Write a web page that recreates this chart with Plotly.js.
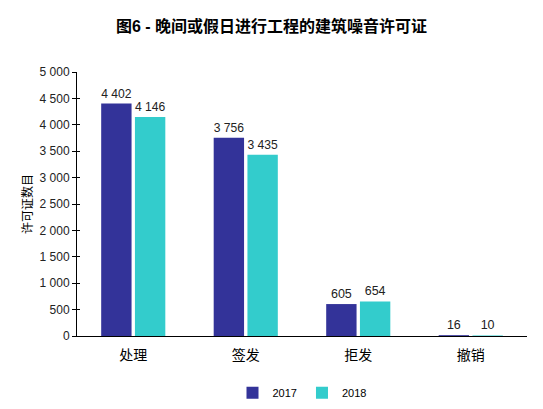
<!DOCTYPE html>
<html>
<head>
<meta charset="utf-8">
<script src="https://cdn.plot.ly/plotly-3.0.1.min.js"></script>
<style>
  html, body { margin: 0; padding: 0; background: #fff; }
  #chart { width: 543px; height: 409px; }
</style>
</head>
<body>
<div id="chart"></div>
<script>
const categories = ["处理", "签发", "拒发", "撤销"];
const values2017 = [4402, 3756, 605, 16];
const values2018 = [4146, 3435, 654, 10];
const yTicks = [0, 500, 1000, 1500, 2000, 2500, 3000, 3500, 4000, 4500, 5000];

const baseFont = "Liberation Sans, Arial, Noto Sans CJK SC, sans-serif";

function barTrace(name, values, color) {
    return {
        type: "bar",
        name: name,
        x: categories,
        y: values,
        marker: {color: color},
        text: values,
        texttemplate: "%{y:,}",
        textposition: "outside",
        cliponaxis: false,
        textfont: {family: baseFont, size: 12.5, color: "#222"}
    };
}

const data = [
    barTrace("2017", values2017, "#333399"),
    barTrace("2018", values2018, "#33cccc")
];

// dummy trace so the second axis (inner tick half) is drawn
data.push({x: [categories[0]], y: [0], yaxis: "y2", type: "scatter", mode: "none", showlegend: false, hoverinfo: "skip"});

const layout = {
    width: 543,
    height: 409,
    margin: {l: 77, r: 16, t: 72, b: 73, autoexpand: false},
    paper_bgcolor: "#fff",
    plot_bgcolor: "#fff",
    separators: ", ",
    font: {family: baseFont, size: 12, color: "#222"},
    title: {
        text: "<b>图6 - 晚间或假日进行工程的建筑噪音许可证</b>",
        x: 0.5,
        xanchor: "center",
        y: 0.935,
        yanchor: "middle",
        font: {family: baseFont, size: 16, color: "#000"}
    },
    bargap: 0.4,
    bargroupgap: 0.1,
    showlegend: true,
    legend: {
        orientation: "h",
        x: 0.5,
        xanchor: "center",
        xref: "paper",
        yref: "container",
        y: 0.04,
        yanchor: "middle",
        font: {size: 11, color: "#000"},
        itemwidth: 30,
        tracegroupgap: 0
    },
    xaxis: {
        showline: true,
        linecolor: "#000",
        linewidth: 1,
        ticks: "",
        ticklabelstandoff: 6,
        tickfont: {size: 14, color: "#000"},
        fixedrange: true
    },
    yaxis: {
        range: [0, 5000],
        tickvals: yTicks,
        tickformat: ",d",
        separatethousands: true,
        showline: true,
        linecolor: "#000",
        showgrid: false,
        zeroline: false,
        ticks: "outside",
        ticklen: 4,
        tickcolor: "#000",
        tickfont: {size: 12, color: "#222"},
        title: {text: "许可证数目", font: {size: 12, color: "#000"}, standoff: 4}
    },
    yaxis2: {
        overlaying: "y",
        range: [0, 5000],
        tickvals: yTicks,
        showticklabels: false,
        showline: false,
        showgrid: false,
        zeroline: false,
        ticks: "inside",
        ticklen: 3,
        tickcolor: "#000"
    }
};

Plotly.newPlot("chart", data, layout, {displayModeBar: false, staticPlot: true});
</script>
</body>
</html>
